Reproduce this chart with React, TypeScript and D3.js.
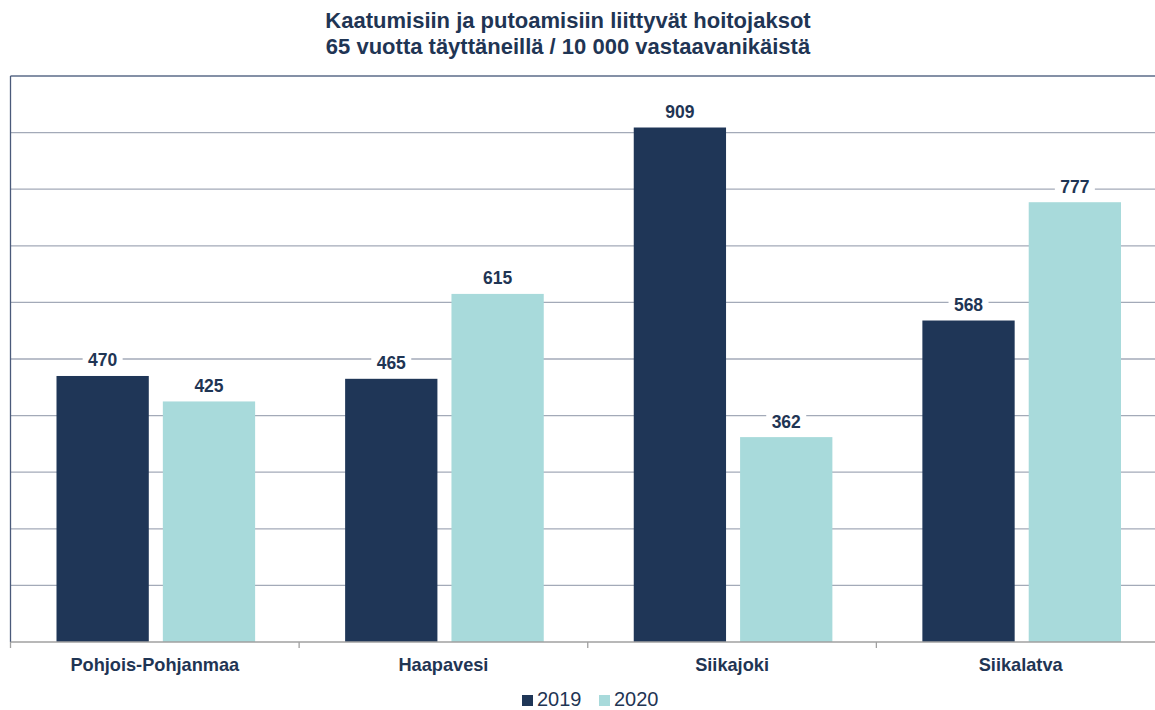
import React, { useEffect } from "react";
import * as d3 from "d3";

const categories = ["Pohjois-Pohjanmaa", "Haapavesi", "Siikajoki", "Siikalatva"];
const seriesNames = ["2019", "2020"];
const values2019 = [470, 465, 909, 568];
const values2020 = [425, 615, 362, 777];
const yTicks = [0, 100, 200, 300, 400, 500, 600, 700, 800, 900, 1000];
const titleLines = [
  "Kaatumisiin ja putoamisiin liittyvät hoitojaksot",
  "65 vuotta täyttäneillä / 10 000 vastaavanikäistä",
];

const colors = ["#1f3657", "#a8dadb"];
const textColor = "#1f3554";
const font = "'Liberation Sans', Arial, sans-serif";

const W = 1155;
const H = 710;
const left = 10.5;
const right = 1165;
const top = 76;
const bottom = 642;

export default function App() {
  useEffect(() => {
    document.documentElement.style.overflow = "hidden";
    document.body.style.overflow = "hidden";
  }, []);
  const x = d3.scaleBand<string>().domain(categories).range([left, right]).paddingInner(0).paddingOuter(0);
  const bw = x.bandwidth();
  const inner = d3
    .scaleBand<string>()
    .domain(seriesNames)
    .range([46, bw - 44])
    .paddingInner(14 / 106);
  const y = d3.scaleLinear().domain([0, 1000]).range([bottom, top]);
  const series = [values2019, values2020];

  return (
    <div style={{ position: "fixed", left: 0, top: 0, width: W, height: H, overflow: "hidden" }}>
      <svg width={W} height={H} style={{ display: "block", background: "#fff" }}>
        {titleLines.map((t, i) => (
          <text
            key={i}
            x={568}
            y={28 + i * 26}
            textAnchor="middle"
            fontFamily={font}
            fontWeight="bold"
            fontSize={22}
            fill={textColor}
          >
            {t}
          </text>
        ))}
        {yTicks
          .filter((t) => t > 0 && t < 1000)
          .map((t) => (
            <line key={t} x1={left} x2={right} y1={y(t)} y2={y(t)} stroke="#a3aab8" strokeWidth={1.3} />
          ))}
        <line x1={left} x2={right} y1={y(1000)} y2={y(1000)} stroke="#5b6b88" strokeWidth={1.5} />
        {series.map((vals, si) =>
          categories.map((c, ci) => {
            const bx = (x(c) as number) + (inner(seriesNames[si]) as number);
            return (
              <rect
                key={`${si}-${ci}`}
                x={bx}
                y={y(vals[ci])}
                width={inner.bandwidth()}
                height={bottom - y(vals[ci])}
                fill={colors[si]}
              />
            );
          })
        )}
        <line x1={left} x2={left} y1={top} y2={bottom} stroke="#4a5a7a" strokeWidth={1.3} />
        <line x1={left} x2={right} y1={bottom} y2={bottom} stroke="#a0a0a0" strokeWidth={1.3} />
        {categories.map((c) => (
          <line
            key={c}
            x1={x(c) as number}
            x2={x(c) as number}
            y1={bottom}
            y2={bottom + 6}
            stroke="#a0a0a0"
            strokeWidth={1.3}
          />
        ))}
        {series.map((vals, si) =>
          categories.map((c, ci) => {
            const cx = (x(c) as number) + (inner(seriesNames[si]) as number) + inner.bandwidth() / 2;
            const ty = y(vals[ci]) - 9.5;
            return (
              <g key={`l${si}-${ci}`}>
                <rect x={cx - 20} y={ty - 16} width={40} height={21} fill="#fff" />
                <text
                  x={cx}
                  y={ty}
                  textAnchor="middle"
                  fontFamily={font}
                  fontWeight="bold"
                  fontSize={17.5}
                  fill={textColor}
                >
                  {vals[ci]}
                </text>
              </g>
            );
          })
        )}
        {categories.map((c) => (
          <text
            key={c}
            x={(x(c) as number) + bw / 2}
            y={671}
            textAnchor="middle"
            fontFamily={font}
            fontWeight="bold"
            fontSize={18.2}
            fill={textColor}
          >
            {c}
          </text>
        ))}
        {seriesNames.map((s, i) => {
          const lx = 522 + i * 77;
          return (
            <g key={s}>
              <rect x={lx} y={695} width={11} height={11} fill={colors[i]} />
              <text x={lx + 15} y={706} fontFamily={font} fontSize={20} fill={textColor}>
                {s}
              </text>
            </g>
          );
        })}
      </svg>
    </div>
  );
}
